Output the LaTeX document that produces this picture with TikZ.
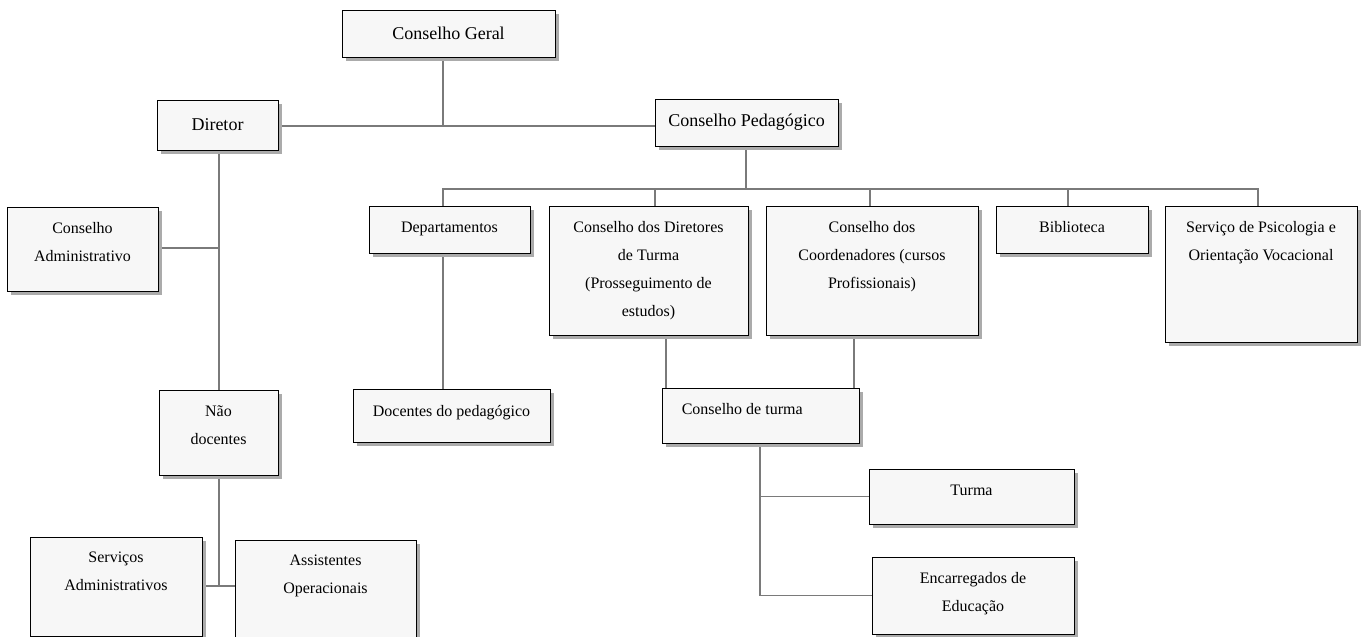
\documentclass[tikz,border=0pt]{standalone}
\usepackage{fontspec}
\setmainfont{Liberation Serif}
\usetikzlibrary{shadows,calc}
\definecolor{boxfill}{HTML}{F7F7F7}
\definecolor{shade}{HTML}{ABABAB}
\definecolor{wire}{HTML}{7A7A7A}
\pgfdeclarelayer{bg}\pgfsetlayers{bg,main}
\newcommand\obox[5]{\node[obox, minimum width={#4-#2}, minimum height={#5-#3}] (#1) at ({(#2+#4)/2},{(#3+#5)/2}) {};}
\begin{document}
\begin{tikzpicture}[x=1pt,y=-1pt,
  obox/.style={draw=black, line width=0.9pt, fill=boxfill, inner sep=0pt,
    drop shadow={shadow xshift=4pt, shadow yshift=-4pt, fill=shade, opacity=1}},
  conn/.style={draw=wire, line width=1.8pt},
  big/.style={font=\fontsize{18}{22}\selectfont, inner sep=0pt},
  txt/.style={font=\fontsize{16}{28}\selectfont, align=center, inner sep=0pt, anchor=north,
    execute at begin node={\rule{0pt}{11pt}}}]
\useasboundingbox (0,0) rectangle (1365,637);
% boxes
\obox{geral}{342}{10}{555}{57}
\obox{diretor}{157}{100}{278}{150}
\obox{ped}{655}{99}{838}{146}
\obox{cadm}{7}{207}{158}{291}
\obox{nao}{159}{390}{278}{475}
\obox{serv}{30}{537}{202}{636}
\obox{assist}{235}{540}{416}{637}
\obox{dep}{369}{206}{530}{253}
\obox{doc}{353}{389}{550}{442}
\obox{cdt}{549}{206}{748}{335}
\obox{cco}{766}{206}{978}{335}
\obox{bib}{996}{206}{1148}{253}
\obox{psi}{1165}{206}{1357}{342}
\obox{ct}{662}{388}{859}{443}
\obox{turma}{869}{469}{1074}{524}
\obox{enc}{872}{557}{1074}{634}
% texts
\node[big] (geral-t) at (geral) {Conselho Geral};
\node[big] (diretor-t) at (diretor) {Diretor};
\node[big] (ped-t) at (ped) {Conselho Pedagógico};
\node[txt] (cadm-t) at ([yshift=-15.5pt]cadm.north) {Conselho\\Administrativo};
\node[txt] (nao-t) at ([yshift=-15.5pt]nao.north) {Não\\docentes};
\node[txt] (serv-t) at ([yshift=-15.5pt]serv.north) {Serviços\\Administrativos};
\node[txt] (assist-t) at ([yshift=-15.5pt]assist.north) {Assistentes\\Operacionais};
\node[txt] (dep-t) at ([yshift=-15.5pt]dep.north) {Departamentos};
\node[txt] (doc-t) at ([yshift=-17pt]doc.north) {Docentes do pedagógico};
\node[txt] (cdt-t) at ([yshift=-15.5pt]cdt.north) {Conselho dos Diretores\\de Turma\\(Prosseguimento de\\estudos)};
\node[txt] (cco-t) at ([yshift=-15.5pt]cco.north) {Conselho dos\\Coordenadores (cursos\\Profissionais)};
\node[txt] (bib-t) at ([yshift=-15.5pt]bib.north) {Biblioteca};
\node[txt] (psi-t) at ([yshift=-15.5pt]psi.north) {Serviço de Psicologia e\\Orientação Vocacional};
\node[txt, anchor=north west] (ct-t) at ([xshift=20pt,yshift=-15.5pt]ct.north west) {Conselho de turma};
\node[txt] (turma-t) at ([yshift=-15.5pt]turma.north) {Turma};
\node[txt] (enc-t) at ([yshift=-15.5pt]enc.north) {Encarregados de\\Educação};
% junction coordinates
\coordinate (jg) at (443,126);
\coordinate (jp) at (746,189);
\coordinate (bl) at (443,189);
\coordinate (d2) at (655,189);
\coordinate (d3) at (870,189);
\coordinate (d4) at (1068,189);
\coordinate (br) at (1258,189);
\coordinate (dx) at (219,248);
\coordinate (jn) at (219,586);
\coordinate (xa) at (666,0);
\coordinate (xb) at (854,0);
\coordinate (cx) at (760,0);
\begin{pgfonlayer}{bg}
\draw[conn] (geral.south -| jg) -- (jg);
\draw[conn] (diretor.east |- jg) -- (ped.west |- jg);
\draw[conn] (ped.south -| jp) -- (jp);
\draw[conn] (bl |- dep.north) -- (bl) -- (br) -- (br |- psi.north);
\draw[conn] (d2) -- (d2 |- cdt.north);
\draw[conn] (d3) -- (d3 |- cco.north);
\draw[conn] (d4) -- (d4 |- bib.north);
\draw[conn] (bl |- dep.south) -- (bl |- doc.north);
\draw[conn] (diretor.south -| dx) -- (nao.north -| dx);
\draw[conn] (cadm.east |- dx) -- (dx);
\draw[conn] (nao.south -| jn) -- (jn);
\draw[conn] (serv.east |- jn) -- (assist.west |- jn);
\draw[conn] (cdt.south -| xa) -- (ct.north -| xa);
\draw[conn] (cco.south -| xb) -- (ct.north -| xb);
\draw[conn] (ct.south -| cx) -- (cx |- enc.west) -- (enc.west);
\draw[conn] (cx |- turma.west) -- (turma.west);
\end{pgfonlayer}
\end{tikzpicture}
\end{document}
